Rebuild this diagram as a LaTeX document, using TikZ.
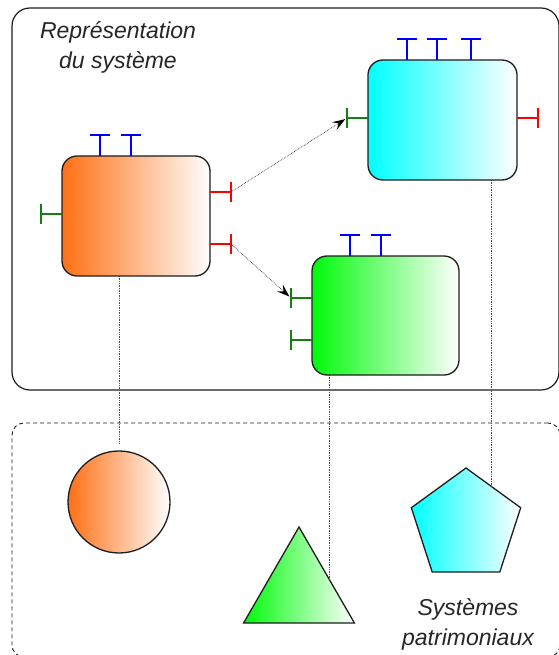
\documentclass[tikz,border=0pt]{standalone}
\usepackage{fontspec}
\setmainfont{Liberation Sans}
\usetikzlibrary{arrows.meta,shapes.geometric,calc}
\definecolor{orng}{RGB}{255,112,20}
\definecolor{cyn}{RGB}{0,255,255}
\definecolor{grn}{RGB}{0,250,10}
\definecolor{pgreen}{RGB}{20,128,20}
\definecolor{edge}{RGB}{30,30,30}
\tikzset{
  box/.style={draw=edge, line width=1.3pt, rounded corners=15pt, inner sep=0pt, outer sep=0pt},
  shp/.style={draw=edge, line width=1.3pt, inner sep=0pt, outer sep=0pt},
  frame/.style={draw=edge, line width=1.2pt, rounded corners=18pt, inner sep=0pt, outer sep=0pt},
  dframe/.style={draw=edge, line width=0.9pt, rounded corners=12pt, dash pattern=on 4pt off 3pt, inner sep=0pt, outer sep=0pt},
  lbl/.style={font=\fontsize{23}{30}\selectfont\itshape, text=black!85, align=center, inner sep=0pt},
  portline/.style={line width=2.2pt},
  vdot/.style={draw=black!70, line width=0.7pt, densely dotted},
  flow/.style={draw=black!80, line width=0.7pt, densely dotted, shorten >=2pt,
    -{Stealth[length=13pt, width=9pt, inset=5pt, line width=0pt, black]}},
  portT/.pic={\draw[portline,blue] (0,0) -- (0,-21) coordinate (-end) (-10,-21) -- (10,-21);},
  portL/.pic={\draw[portline,pgreen] (0,0) -- (-21,0) coordinate (-end) (-21,-10) -- (-21,10);},
  portR/.pic={\draw[portline,red] (0,0) -- (21,0) coordinate (-end) (21,-10) -- (21,10);},
}
\begin{document}
\begin{tikzpicture}[x=1pt, y=-1pt]
\useasboundingbox (0,0) rectangle (558,655);
% frames
\node[frame, minimum width=547pt, minimum height=382pt] (sys) at (285.5,199) {};
\node[dframe, minimum width=548pt, minimum height=234pt] (pat) at (286,540) {};
\node[lbl] (t1) at (118,47) {Représentation\\du système};
\node[lbl] (t2) at (468,624) {Systèmes\\patrimoniaux};
% legacy shapes
\node[shp, circle, minimum size=102pt, left color=orng, right color=white] (circ) at (119,502) {};
\node[shp, regular polygon, regular polygon sides=3, minimum size=128pt, left color=grn, right color=white] (tri) at (299,591) {};
\node[shp, regular polygon, regular polygon sides=5, minimum size=115pt, left color=cyn, right color=white] (pent) at (466,525.5) {};
% dotted links
\coordinate (pg) at ($(tri.corner 1)!0.554!(tri.corner 3)$);
\coordinate (pc) at ($(pent.corner 1)!0.47!(pent.corner 5)$);
\draw[vdot] (circ.north |- 0,276) -- ([yshift=8pt]circ.north);
\draw[vdot] (pg |- 0,375) -- (pg);
\draw[vdot] (pc |- 0,180) -- (pc);
% components
\node[box, minimum width=148pt, minimum height=120pt, left color=orng, right color=white] (orange) at (136,216) {};
\node[box, minimum width=149pt, minimum height=120pt, left color=cyn, right color=white] (cyan) at (442.5,120) {};
\node[box, minimum width=147pt, minimum height=119pt, left color=grn, right color=white] (green) at (385.5,315.5) {};
% ports orange
\pic (ob1) at (orange.north -| 100,0) {portT};
\pic (ob2) at (orange.north -| 131,0) {portT};
\pic (og1) at (orange.west |- 0,214) {portL};
\pic (or1) at (orange.east |- 0,192) {portR};
\pic (or2) at (orange.east |- 0,244) {portR};
% ports cyan
\pic (cb1) at (cyan.north -| 407,0) {portT};
\pic (cb2) at (cyan.north -| 437,0) {portT};
\pic (cb3) at (cyan.north -| 471,0) {portT};
\pic (cg1) at (cyan.west |- 0,118) {portL};
\pic (cr1) at (cyan.east |- 0,118) {portR};
% ports green
\pic (gb1) at (green.north -| 350,0) {portT};
\pic (gb2) at (green.north -| 381,0) {portT};
\pic (gg1) at (green.west |- 0,298) {portL};
\pic (gg2) at (green.west |- 0,340) {portL};
% flows
\draw[flow] (or1-end) -- (cg1-end);
\draw[flow] (or2-end) -- (gg1-end);
\end{tikzpicture}
\end{document}
